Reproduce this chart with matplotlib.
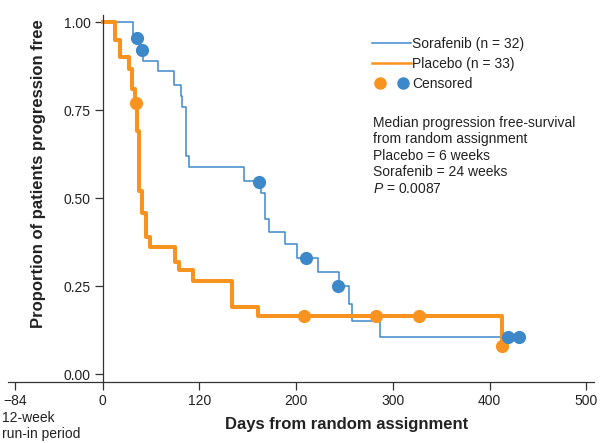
import matplotlib
matplotlib.use("Agg")
import matplotlib.pyplot as plt
from matplotlib.lines import Line2D
from matplotlib.legend_handler import HandlerTuple

plt.rcParams["font.family"] = ["Liberation Sans", "DejaVu Sans"]
plt.rcParams["mathtext.fontset"] = "custom"
plt.rcParams["mathtext.it"] = "Liberation Sans:italic"
plt.rcParams["mathtext.rm"] = "Liberation Sans"

# ── Data (days from random assignment, proportion progression free) ──────────
sora_t = [0, 31, 39, 42, 57, 73.5, 80.5, 82, 86, 89, 146, 163.5, 167.5, 172,
          188.5, 201, 222.5, 244, 254.5, 258, 286.5, 432]
sora_s = [1.0, 0.958, 0.925, 0.89, 0.86, 0.82, 0.79, 0.76, 0.62, 0.588, 0.55,
          0.515, 0.44, 0.405, 0.37, 0.33, 0.29, 0.25, 0.20, 0.15, 0.105, 0.105]
sora_cens_t = [35, 41, 161.5, 210, 243, 419, 430.5]
sora_cens_s = [0.955, 0.92, 0.545, 0.33, 0.25, 0.105, 0.105]

plac_t = [0, 12.5, 17.5, 27, 30, 33, 35.5, 37.5, 40.5, 44.5, 48.5, 74.5, 78.5,
          93, 133.5, 160.5, 413]
plac_s = [1.0, 0.95, 0.90, 0.866, 0.81, 0.77, 0.69, 0.52, 0.457, 0.39, 0.36,
          0.32, 0.295, 0.264, 0.19, 0.165, 0.08]
plac_cens_t = [34.5, 208, 282.5, 327, 413]
plac_cens_s = [0.77, 0.165, 0.165, 0.165, 0.08]

xtick_pos = [-91, 0, 100, 200, 300, 400, 500]
xtick_lab = ["\u221284", "0", "120", "200", "300", "400", "500"]
ytick_pos = [0, 0.25, 0.5, 0.75, 1.0]

BLUE = "#3d88c9"
ORANGE = "#f7931e"
GREY = "#333333"
TXT = "#222222"
W, H = 606, 443

fig = plt.figure(figsize=(W / 100, H / 100), dpi=100)
ax = fig.add_axes([8 / W, 1 - 382 / H, 586 / W, 367 / H])

ax.step(sora_t, sora_s, where="post", color=BLUE, lw=1.1)
ax.step(plac_t, plac_s, where="post", color=ORANGE, lw=2.9)
ax.plot(plac_cens_t, plac_cens_s, "o", color=ORANGE, ms=9.5, mec="none")
ax.plot(sora_cens_t, sora_cens_s, "o", color=BLUE, ms=9.5, mec="none")

ax.set_xlim(-98, 508)
ax.set_ylim(-0.022, 1.02)
ax.spines["top"].set_visible(False)
ax.spines["right"].set_visible(False)
ax.spines["left"].set_position(("data", 0))
for s in ("left", "bottom"):
    ax.spines[s].set_color(GREY)
    ax.spines[s].set_linewidth(0.9)

ax.set_xticks(xtick_pos, xtick_lab)
ax.set_yticks(ytick_pos, [f"{v:.2f}" for v in ytick_pos])
ax.tick_params(direction="out", length=5.5, width=0.9, colors=GREY,
               labelsize=10, labelcolor=TXT, pad=3)

fig.text(347 / W, 1 - 424 / H, "Days from random assignment", ha="center",
         va="center", fontsize=12, fontweight="bold", color=TXT)
fig.text(39 / W, 1 - 174 / H, "Proportion of patients progression free",
         rotation=90, ha="center", va="center", fontsize=12,
         fontweight="bold", color=TXT)
fig.text(2 / W, 1 - 426 / H, "12-week\nrun-in period", ha="left",
         va="center", fontsize=10, color=TXT, linespacing=1.15)

handles = [Line2D([], [], color=BLUE, lw=1.1),
           Line2D([], [], color=ORANGE, lw=1.8),
           (Line2D([], [], marker="o", ls="none", color=ORANGE, ms=9, mec="none"),
            Line2D([], [], marker="o", ls="none", color=BLUE, ms=9, mec="none"))]
labels = ["Sorafenib (n = 32)", "Placebo (n = 33)", "Censored"]
fig.legend(handles, labels, loc="upper left",
           bbox_to_anchor=(372 / W, 1 - 37 / H), frameon=False, fontsize=10,
           handlelength=2.8, handletextpad=0.1, labelspacing=0.42,
           borderpad=0, borderaxespad=0, labelcolor=TXT,
           handler_map={tuple: HandlerTuple(ndivide=None, pad=0.4)})

note = ("Median progression free-survival\nfrom random assignment\n"
        "Placebo = 6 weeks\nSorafenib = 24 weeks\n$P$ = 0.0087")
fig.text(373 / W, 1 - 116 / H, note, ha="left", va="top", fontsize=10,
         color=TXT, linespacing=1.22)

fig.savefig("out.png", dpi=100)
